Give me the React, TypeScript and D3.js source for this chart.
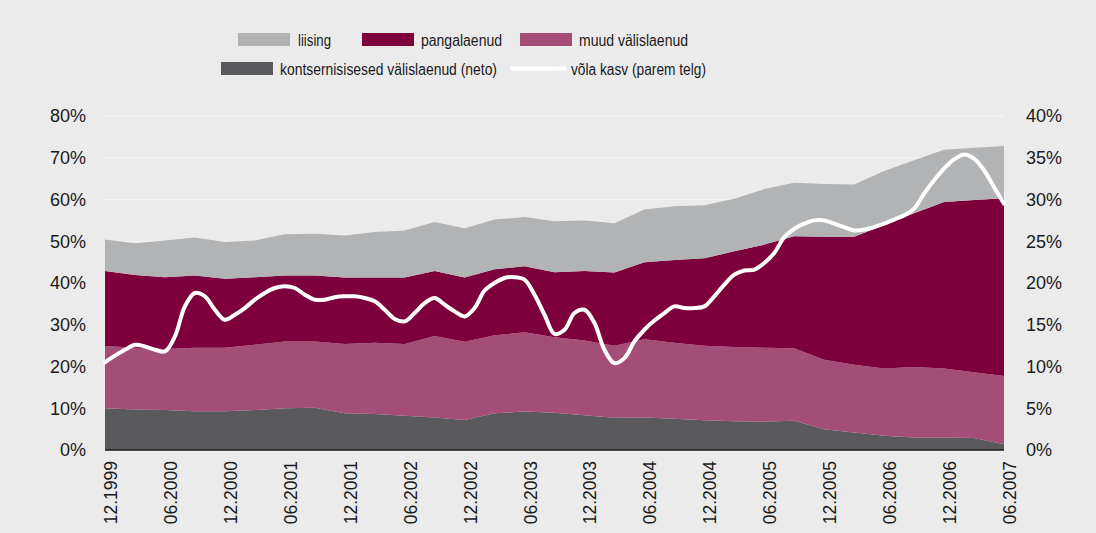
import React from "react";
import * as d3 from "d3";

const quarters = [
  "12.1999","03.2000","06.2000","09.2000","12.2000","03.2001","06.2001","09.2001",
  "12.2001","03.2002","06.2002","09.2002","12.2002","03.2003","06.2003","09.2003",
  "12.2003","03.2004","06.2004","09.2004","12.2004","03.2005","06.2005","09.2005",
  "12.2005","03.2006","06.2006","09.2006","12.2006","03.2007","06.2007",
];
const tickLabels = [
  "12.1999","06.2000","12.2000","06.2001","12.2001","06.2002","12.2002","06.2003",
  "12.2003","06.2004","12.2004","06.2005","12.2005","06.2006","12.2006","06.2007",
];

const kontsern = [10.0,9.7,9.6,9.3,9.3,9.6,10.0,10.1,8.8,8.6,8.2,7.8,7.2,8.8,9.2,8.9,8.3,7.7,7.8,7.5,7.1,6.9,6.8,7.0,5.0,4.2,3.4,3.0,3.0,2.9,1.4];
const muud = [14.9,14.8,14.6,15.2,15.2,15.6,16.0,15.9,16.6,17.1,17.2,19.5,18.7,18.7,19.0,18.1,17.9,17.3,18.7,18.2,17.9,17.8,17.7,17.4,16.6,16.2,16.1,16.9,16.5,15.7,16.3];
const panga = [18.0,17.4,17.2,17.3,16.5,16.2,15.8,15.8,15.9,15.6,15.9,15.6,15.4,15.8,15.8,15.6,16.7,17.5,18.5,19.8,20.9,22.9,24.7,26.8,29.5,30.7,34.4,36.8,39.9,41.3,42.6];
const liising = [7.5,7.6,8.8,9.1,8.8,8.8,9.9,10.0,10.1,10.9,11.3,11.7,11.8,11.9,11.8,12.2,12.1,11.8,12.6,12.9,12.7,12.6,13.3,12.8,12.6,12.5,12.9,12.7,12.5,12.5,12.5];

// monthly debt growth, 12.1999 .. 06.2007 (right axis)
const volaKasv = [
  10.5,11.3,12.0,12.6,12.4,12.0,11.8,13.6,17.2,18.8,
  18.4,16.8,15.6,16.2,17.0,18.0,18.8,19.4,19.6,19.4,
  18.6,18.0,18.0,18.3,18.4,18.4,18.2,17.8,16.8,15.7,
  15.4,16.4,17.6,18.2,17.4,16.6,16.0,17.0,19.1,20.0,
  20.6,20.7,20.4,18.6,16.2,13.9,14.4,16.4,16.8,15.2,
  12.0,10.4,11.0,13.0,14.4,15.5,16.4,17.2,17.0,17.0,
  17.2,18.4,19.8,21.0,21.5,21.6,22.4,23.6,25.5,26.5,
  27.1,27.5,27.5,27.1,26.7,26.3,26.4,26.7,27.1,27.6,
  28.1,28.9,30.7,32.3,33.7,34.8,35.4,34.9,33.5,31.5,
  29.5,
];

const leftTicks = [0,10,20,30,40,50,60,70,80];
const rightTicks = [0,5,10,15,20,25,30,35,40];

const seriesKeys = ["kontsern","muud","panga","liising"];
const seriesColors: Record<string,string> = {
  kontsern: "#5a5a5c",
  muud: "#a44d76",
  panga: "#7d003d",
  liising: "#b2b3b5",
};

const W = 1096, H = 533;
const X0 = 105, X1 = 1004, Y0 = 450, Y1 = 116;

export default function App() {
  const rows = quarters.map((q, i) => ({
    q, kontsern: kontsern[i], muud: muud[i], panga: panga[i], liising: liising[i],
  }));
  const stack = d3.stack<any>().keys(seriesKeys);
  const layers = stack(rows);

  const xQ = d3.scaleLinear().domain([0, quarters.length - 1]).range([X0, X1]);
  const xM = d3.scaleLinear().domain([0, volaKasv.length - 1]).range([X0, X1]);
  const yL = d3.scaleLinear().domain([0, 80]).range([Y0, Y1]);
  const yR = d3.scaleLinear().domain([0, 40]).range([Y0, Y1]);

  const area = d3.area<any>()
    .x((_d, i) => xQ(i))
    .y0((d) => yL(d[0]))
    .y1((d) => yL(d[1]));

  const line = d3.line<number>()
    .x((_d, i) => xM(i))
    .y((d) => yR(d))
    .curve(d3.curveCatmullRom.alpha(0.5));

  const font = "'Liberation Sans', Arial, Helvetica, sans-serif";

  const legend1 = [
    { key: "liising", label: "liising", sx: 238, tx: 298, tl: 33 },
    { key: "panga", label: "pangalaenud", sx: 362, tx: 421, tl: 81 },
    { key: "muud", label: "muud välislaenud", sx: 520, tx: 579, tl: 109 },
  ];

  return (
    <svg width={W} height={H} style={{ position: "absolute", left: 0, top: 0 }} fontFamily={font}>
      <rect x={0} y={0} width={W} height={H} fill="#ebebeb" />
      {leftTicks.map((t) => (
        <line key={"g" + t} x1={X0} x2={X1} y1={yL(t)} y2={yL(t)} stroke="#f6f6f6" strokeWidth={1} />
      ))}
      {layers.map((layer) => (
        <path key={layer.key} d={area(layer as any) || ""} fill={seriesColors[layer.key]} />
      ))}
      <line x1={X0} x2={X1} y1={Y0} y2={Y0} stroke="#1a1a1a" strokeWidth={1.5} />
      <path d={line(volaKasv) || ""} fill="none" stroke="#ffffff" strokeWidth={4} strokeLinejoin="round" strokeLinecap="round" />

      {leftTicks.map((t) => (
        <text key={"l" + t} x={86} y={yL(t)} dy="0.36em" textAnchor="end" fontSize={18} fill="#1a1a1a">{t}%</text>
      ))}
      {rightTicks.map((t) => (
        <text key={"r" + t} x={1026} y={yR(t)} dy="0.36em" textAnchor="start" fontSize={18} fill="#1a1a1a">{t}%</text>
      ))}
      {tickLabels.map((lab) => {
        const i = quarters.indexOf(lab);
        const x = xQ(i) + 12;
        return (
          <text key={"x" + lab} transform={`translate(${x},461) rotate(-90)`} textAnchor="end" fontSize={17.5} fill="#1a1a1a">{lab}</text>
        );
      })}

      {legend1.map((l) => (
        <g key={"lg" + l.key}>
          <rect x={l.sx} y={33} width={52} height={13} fill={seriesColors[l.key]} />
          <text x={l.tx} y={40} dy="0.36em" fontSize={16} textLength={l.tl} lengthAdjust="spacingAndGlyphs" fill="#1a1a1a">{l.label}</text>
        </g>
      ))}
      <rect x={221} y={62} width={52} height={13} fill={seriesColors.kontsern} />
      <text x={280} y={69} dy="0.36em" fontSize={16} textLength={217} lengthAdjust="spacingAndGlyphs" fill="#1a1a1a">kontsernisisesed välislaenud (neto)</text>
      <line x1={512} x2={565} y1={68.5} y2={68.5} stroke="#ffffff" strokeWidth={4} strokeLinecap="round" />
      <text x={571} y={69} dy="0.36em" fontSize={16} textLength={135} lengthAdjust="spacingAndGlyphs" fill="#1a1a1a">võla kasv (parem telg)</text>
    </svg>
  );
}
